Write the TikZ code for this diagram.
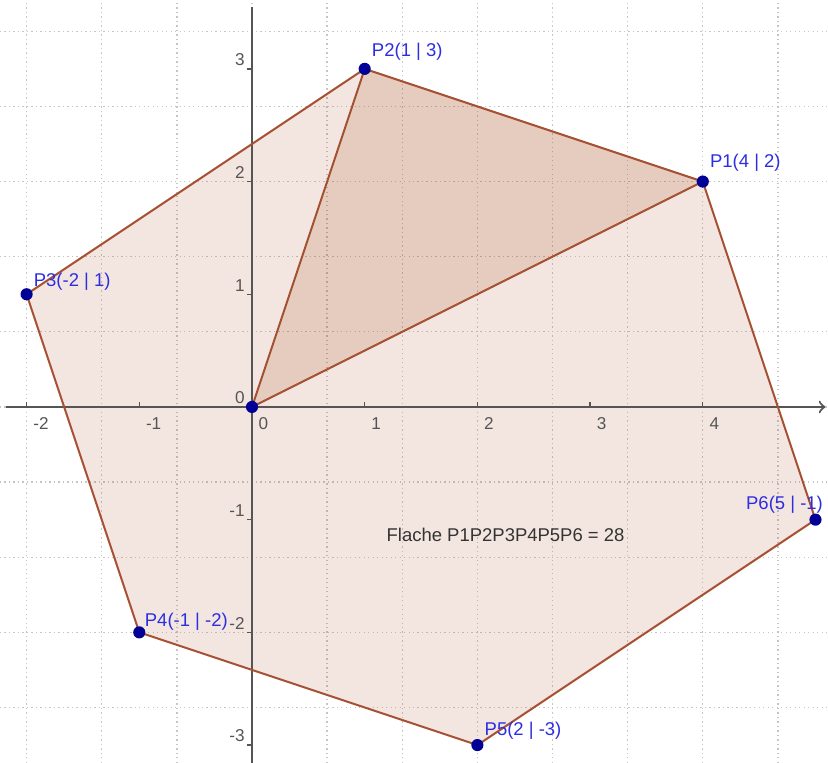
\documentclass[tikz,border=0pt]{standalone}
\usepackage{fontspec}
\setmainfont{Liberation Sans}
\usetikzlibrary{calc}
\definecolor{polybrown}{RGB}{153,51,0}
\definecolor{edgebrown}{RGB}{165,80,50}
\definecolor{ptblue}{RGB}{0,0,150}
\definecolor{lblblue}{RGB}{45,45,225}
\definecolor{axisgray}{RGB}{85,85,85}

\begin{document}
\begin{tikzpicture}[x=1.5cm,y=1.5cm,
    dot/.style={circle, fill=ptblue, inner sep=0pt, minimum size=4.6pt},
    ptlabel/.style={text=lblblue, anchor=west, inner sep=0pt, font=\fontsize{7}{8}\selectfont},
    ticklabel/.style={text=axisgray, inner sep=0pt, font=\fontsize{6.5}{7.5}\selectfont}]
    \useasboundingbox (-2.236,-3.159) rectangle (5.111,3.611);

    % Grid
    \draw[gray!45, line width=0.5pt, dash pattern=on 0.5pt off 1.2pt] (-2.236,-3.159) grid (5.111,3.611);

    % Vertices
    \coordinate (O) at (0,0);
    \coordinate (P1) at (4,2);
    \coordinate (P2) at (1,3);
    \coordinate (P3) at (-2,1);
    \coordinate (P4) at (-1,-2);
    \coordinate (P5) at (2,-3);
    \coordinate (P6) at (5,-1);

    % Hexagon and triangle (filled)
    \fill[polybrown, fill opacity=0.12] (P1) -- (P2) -- (P3) -- (P4) -- (P5) -- (P6) -- cycle;
    \fill[polybrown, fill opacity=0.15] (O) -- (P2) -- (P1) -- cycle;

    % Axes
    \draw[->, axisgray, line width=0.8pt] (-2.18,0) -- (5.09,0);
    \draw[axisgray, line width=0.8pt] (0,-3.159) -- (0,3.55);
    \foreach \x in {-2,-1,0,1,2,3,4} {
        \draw[axisgray, line width=0.5pt] (\x,0) -- (\x,0.045);
        \node[ticklabel, anchor=west] at (\x+0.055,-0.15) {\x};
    }
    \foreach \y in {-3,-2,-1,0,1,2,3} {
        \draw[axisgray, line width=0.5pt] (-0.045,\y) -- (0,\y);
        \node[ticklabel, anchor=east] at (-0.06,\y+0.08) {\y};
    }

    % Edges
    \draw[edgebrown, line width=0.75pt, line join=round] (P1) -- (P2) -- (P3) -- (P4) -- (P5) -- (P6) -- cycle;
    \draw[edgebrown, line width=0.75pt, line join=round] (P2) -- (O) -- (P1);

    % Points
    \node[dot] (o) at (O) {};
    \node[dot] (p1) at (P1) {};
    \node[dot] (p2) at (P2) {};
    \node[dot] (p3) at (P3) {};
    \node[dot] (p4) at (P4) {};
    \node[dot] (p5) at (P5) {};
    \node[dot] (p6) at (P6) {};

    % Labels
    \node[ptlabel] (l1) at ($(P1)+(0.06,0.17)$) {P1(4 | 2)};
    \node[ptlabel] (l2) at ($(P2)+(0.06,0.15)$) {P2(1 | 3)};
    \node[ptlabel] (l3) at ($(P3)+(0.06,0.115)$) {P3(-2 | 1)};
    \node[ptlabel] (l4) at ($(P4)+(0.045,0.09)$) {P4(-1 | -2)};
    \node[ptlabel] (l5) at ($(P5)+(0.06,0.13)$) {P5(2 | -3)};
    \node[ptlabel] (l6) at ($(P6)+(-0.62,0.13)$) {P6(5 | -1)};

    \node[text=black!80, font=\fontsize{7}{8}\selectfont] (area) at (2.25,-1.136) {Flache P1P2P3P4P5P6 = 28};
\end{tikzpicture}
\end{document}
